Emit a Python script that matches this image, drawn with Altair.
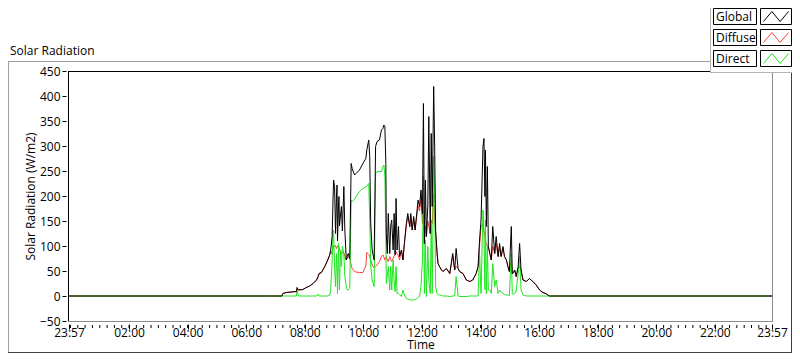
import altair as alt
import pandas as pd

# ---------------- data ----------------
times = [
    "23:57", "06:48", "07:13", "07:15", "07:22", "07:43", "07:44", "07:47", "07:56", "08:03",
    "08:10", "08:17", "08:24", "08:27", "08:29", "08:34", "08:41", "08:47", "08:51", "08:53",
    "08:54", "08:56", "08:58", "08:59", "09:01", "09:03", "09:05", "09:06", "09:07", "09:09",
    "09:10", "09:11", "09:13", "09:15", "09:17", "09:20", "09:22", "09:25", "09:27", "09:29",
    "09:32", "09:35", "09:37", "09:42", "09:45", "09:52", "09:59", "10:05", "10:07", "10:11",
    "10:13", "10:15", "10:18", "10:22", "10:25", "10:28", "10:33", "10:37", "10:40", "10:42",
    "10:44", "10:46", "10:47", "10:49", "10:51", "10:54", "10:56", "10:58", "11:01", "11:03",
    "11:05", "11:07", "11:09", "11:12", "11:14", "11:18", "11:21", "11:24", "11:28", "11:31",
    "11:35", "11:37", "11:40", "11:43", "11:46", "11:50", "11:52", "11:55", "11:58", "12:01",
    "12:03", "12:05", "12:07", "12:09", "12:12", "12:14", "12:17", "12:19", "12:21", "12:24",
    "12:26", "12:28", "12:31", "12:33", "12:36", "12:40", "12:43", "12:50", "12:57", "13:03",
    "13:07", "13:10", "13:14", "13:17", "13:24", "13:31", "13:38", "13:44", "13:51", "13:55",
    "13:58", "14:01", "14:05", "14:07", "14:09", "14:10", "14:12", "14:14", "14:16", "14:19",
    "14:22", "14:25", "14:29", "14:32", "14:36", "14:39", "14:42", "14:46", "14:49", "14:53",
    "14:56", "14:59", "15:03", "15:05", "15:06", "15:10", "15:13", "15:17", "15:20", "15:23",
    "15:27", "15:34", "15:40", "15:47", "15:54", "16:01", "16:08", "16:15", "16:21", "23:57",
]

global_wm2 = [
    0, 0, 0, 5, 7, 9, 17, 12, 13, 17,
    20, 25, 32, 38, 45, 47, 59, 72, 82, 92,
    100, 119, 200, 232, 219, 125, 200, 222, 110, 180,
    199, 140, 160, 179, 130, 219, 132, 72, 80, 85,
    75, 265, 255, 242, 245, 252, 265, 275, 292, 312,
    279, 145, 92, 72, 299, 309, 312, 332, 335, 342,
    339, 265, 125, 85, 165, 85, 140, 152, 92, 165,
    82, 195, 92, 139, 79, 92, 72, 105, 145, 165,
    139, 165, 132, 159, 132, 172, 192, 179, 212, 165,
    385, 105, 232, 119, 180, 359, 125, 325, 179, 419,
    299, 132, 85, 65, 59, 52, 49, 55, 45, 85,
    52, 95, 55, 49, 45, 32, 29, 32, 45, 59,
    112, 152, 299, 315, 199, 292, 139, 259, 99, 85,
    72, 139, 85, 119, 79, 105, 79, 99, 79, 72,
    59, 49, 139, 45, 45, 52, 39, 59, 105, 52,
    32, 29, 35, 29, 22, 12, 7, 4, 0, 0,
]

diffuse_wm2 = [
    0, 0, 0, 5, 7, 9, 14, 12, 13, 17,
    20, 25, 32, 38, 43, 47, 59, 72, 82, 88,
    85, 90, 95, 98, 102, 100, 95, 98, 100, 102,
    97, 92, 90, 85, 89, 86, 79, 72, 76, 79,
    75, 62, 55, 49, 48, 47, 47, 60, 87, 83,
    79, 72, 62, 56, 59, 62, 69, 79, 82, 78,
    72, 75, 79, 72, 69, 79, 72, 69, 75, 80,
    82, 89, 85, 80, 72, 92, 72, 105, 140, 160,
    139, 160, 132, 155, 132, 165, 180, 170, 195, 145,
    199, 105, 140, 119, 150, 140, 125, 152, 145, 205,
    152, 125, 85, 65, 59, 52, 49, 55, 45, 82,
    52, 60, 55, 49, 45, 32, 29, 32, 45, 59,
    100, 139, 145, 130, 119, 110, 105, 100, 99, 85,
    72, 100, 85, 105, 79, 100, 79, 95, 79, 72,
    59, 49, 72, 45, 45, 52, 39, 55, 59, 52,
    32, 29, 35, 29, 22, 12, 7, 4, 0, 0,
]

direct_wm2 = [
    0, 0, 0, 0, 0, 0, 11, 0, 0, 0,
    0, 0, 0, 4, 0, 0, 0, 0, 2, 10,
    32, 70, 132, 128, 60, 19, 85, 60, 5, 105,
    60, 12, 92, 59, 99, 85, 39, 19, 12, 12,
    15, 192, 189, 194, 199, 209, 215, 218, 220, 225,
    152, 60, 32, 19, 245, 249, 249, 249, 259, 262,
    240, 120, 25, 40, 59, 12, 60, 12, 72, 30,
    9, 59, 5, 5, 3, -1, 12, 2, -5, -6,
    -8, -8, -8, -8, -7, -5, -3, -1, 19, 72,
    239, 5, 112, -1, 99, 32, 5, 145, 5, 279,
    212, 19, 5, 3, 2, 1, 0, 0, -1, 0,
    0, 39, 0, -1, -1, -1, 0, 0, 0, 0,
    85, 5, 172, 125, 12, 152, 5, 99, 12, 12,
    5, 65, 19, 32, 5, 12, 8, 5, 3, 2,
    2, 1, 85, 5, 3, 5, 10, 45, 79, 12,
    2, 0, 0, 0, 0, 0, 0, 0, 0, 0,
]

series_names = ["Global", "Diffuse", "Direct"]
series_colors = ["#000000", "#ff3c3c", "#1ee61e"]
major_label_hours = [2, 4, 6, 8, 10, 12, 14, 16, 18, 20, 22]
y_tick_values = [-50, 0, 50, 100, 150, 200, 250, 300, 350, 400, 450]
chart_title = "Solar Radiation"
y_title = "Solar Radiation (W/m2)"
x_title = "Time"

# ---------------- tables ----------------
days = ["2024-01-01" if i == 0 else "2024-01-02" for i in range(len(times))]
df = pd.DataFrame({
    "t": [f"{d}T{t}:00" for d, t in zip(days, times)],
    "Global": global_wm2,
    "Diffuse": diffuse_wm2,
    "Direct": direct_wm2,
})

minor_df = pd.DataFrame({
    "t": [f"2024-01-02T{h:02d}:{m:02d}:00" for h in range(24) for m in (0, 15, 30, 45)]
})

FONT = "Open Sans"
W, H = 703, 250
PAD_T = 63
PAD_B = 345 - PAD_T - H

start = alt.DateTime(year=2024, month=1, date=1, hours=23, minutes=57)
end = alt.DateTime(year=2024, month=1, date=2, hours=23, minutes=57)
x_values = [start] + [alt.DateTime(year=2024, month=1, date=2, hours=h) for h in major_label_hours] + [end]

x_axis = alt.Axis(
    values=x_values, format="%H:%M", title=x_title, grid=False, domain=False,
    tickSize=5, offset=3, tickColor="black", labelColor="black",
    labelFont=FONT, labelFontSize=12, labelPadding=-2, labelOverlap=False, labelFlush=False,
    titleFont=FONT, titleFontSize=12, titleFontWeight="normal", titleColor="black", titlePadding=1,
)
y_axis = alt.Axis(
    values=y_tick_values, title=y_title, grid=False, domain=False,
    tickSize=4, offset=3, tickColor="black", labelColor="black",
    labelFont=FONT, labelFontSize=12, labelPadding=2,
    titleFont=FONT, titleFontSize=12, titleFontWeight="normal", titleColor="black", titlePadding=2,
)
x_scale = alt.Scale(domain=[start, end])
y_scale = alt.Scale(domain=[-50, 450], nice=False, zero=False)

base = alt.Chart(df)


def series_layer(name, color):
    return base.mark_line(color=color, strokeWidth=1, interpolate="linear").encode(
        x=alt.X("t:T", scale=x_scale, axis=x_axis),
        y=alt.Y(f"{name}:Q", scale=y_scale, axis=y_axis),
    )


one = alt.Data(values=[{"k": 0}])


def hline(x1, x2, y, color):
    return alt.Chart(one).mark_rule(color=color, strokeWidth=1).encode(
        x=alt.value(x1), x2=alt.value(x2), y=alt.value(y))


def vline(x, y1, y2, color):
    return alt.Chart(one).mark_rule(color=color, strokeWidth=1).encode(
        x=alt.value(x), y=alt.value(y1), y2=alt.value(y2))


minor_ticks = alt.Chart(minor_df).mark_rule(color="black", strokeWidth=1).encode(
    x=alt.X("t:T", scale=x_scale, axis=x_axis),
    y=alt.value(H + 4), y2=alt.value(H + 7),
)

BOT = 345 - PAD_T - 0.5    # bottom frame line (plot coords)
LEG_L = 641   # legend panel left edge (plot coords)
layers = [
    series_layer("Diffuse", series_colors[1]),
    series_layer("Direct", series_colors[2]),
    series_layer("Global", series_colors[0]),
    minor_ticks,
    # plot frame
    hline(-1, 704, 0.5, "black"),
    vline(-0.5, 0, H + 1, "black"),
    vline(703.5, 1, H + 1, "#8c8c8c"),
    hline(-1, 704, H + 0.5, "#8c8c8c"),
    # outer panel frame
    hline(-61, LEG_L, -9.5, "#a0a0a0"),
    vline(-60.5, -9.5, BOT, "#a0a0a0"),
    hline(-61, 723, BOT, "#404040"),
    vline(722.5, 1, BOT, "#404040"),
    # legend panel
    alt.Chart(one).mark_rect(fill="white", stroke=None).encode(
        x=alt.value(LEG_L), x2=alt.value(723), y=alt.value(-72), y2=alt.value(1)),
    vline(LEG_L + 0.5, -72, 2, "#b4b4b4"),
    hline(LEG_L, 723, 1.5, "#b4b4b4"),
    # title
    alt.Chart(one).mark_text(text=chart_title, align="left", baseline="alphabetic",
                             font=FONT, fontSize=12, color="black").encode(
        x=alt.value(-59), y=alt.value(-16)),
]

row_tops = [-62.5, -41.5, -20.5]
zigzag = "M-1,0.4L-0.33,-0.4L0.33,0.4L1,-0.4"
for name, color, top in zip(series_names, series_colors, row_tops):
    layers.append(alt.Chart(one).mark_rect(fill="white", stroke="black", strokeWidth=1).encode(
        x=alt.value(LEG_L + 3.5), x2=alt.value(LEG_L + 46.5), y=alt.value(top), y2=alt.value(top + 16)))
    layers.append(alt.Chart(one).mark_rect(fill="white", stroke="black", strokeWidth=1).encode(
        x=alt.value(LEG_L + 50.5), x2=alt.value(LEG_L + 81.5), y=alt.value(top), y2=alt.value(top + 16)))
    layers.append(alt.Chart(one).mark_text(text=name, align="left", baseline="middle",
                                           font=FONT, fontSize=12, color="black").encode(
        x=alt.value(LEG_L + 6), y=alt.value(top + 8.5)))
    layers.append(alt.Chart(one).mark_point(shape=zigzag, size=625, filled=False,
                                            stroke=color, strokeWidth=1, opacity=1).encode(
        x=alt.value(LEG_L + 66), y=alt.value(top + 8)))

chart = alt.layer(*layers).properties(
    width=W, height=H,
    autosize=alt.AutoSizeParams(type="none"),
    padding={"left": 61, "top": PAD_T, "right": 20, "bottom": PAD_B},
    background="white",
).configure_view(stroke=None)

chart.save("out.html", embed_options={"renderer": "svg", "actions": False})
